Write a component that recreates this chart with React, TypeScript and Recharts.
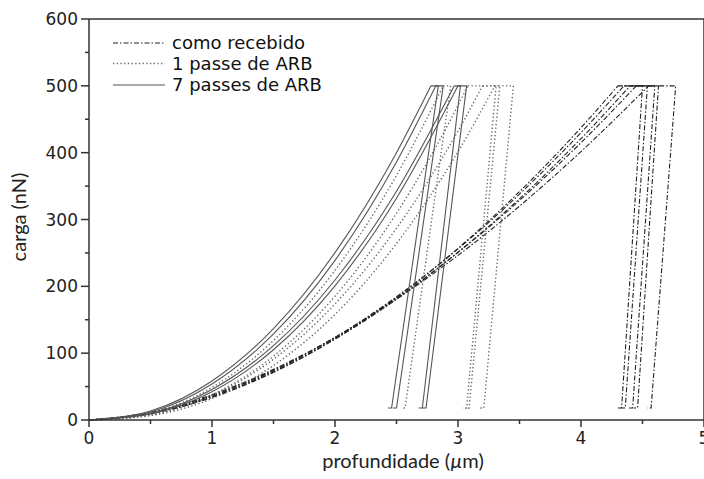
import { LineChart, Line, XAxis, YAxis, ReferenceLine } from "recharts";

type Pt = [number, number];

// [profundidade (µm), carga (nN)]
// como recebido
const cr1Load: Pt[] = [[0, 0], [0.5, 9.3], [1, 33.7], [1.5, 71.3], [2, 121.3], [2.5, 183.3], [3, 256.9], [3.5, 341.7], [4, 437.4], [4.3, 500]];
const cr1Unload: Pt[] = [[4.3, 500], [4.5, 500], [4.33, 18], [4.3, 18]];
const cr2Load: Pt[] = [[0, 0], [0.5, 10.2], [1, 35.4], [1.5, 73.6], [2, 123.4], [2.5, 184.5], [3, 256], [3.5, 338], [4, 430], [4.35, 500]];
const cr2Unload: Pt[] = [[4.35, 500], [4.54, 500], [4.36, 18], [4.33, 18]];
const cr3Load: Pt[] = [[0, 0], [0.5, 10], [1, 34.7], [1.5, 72], [2, 121], [2.5, 180.8], [3, 251], [3.5, 331], [4, 421], [4.4, 500]];
const cr3Unload: Pt[] = [[4.4, 500], [4.6, 500], [4.42, 18], [4.39, 18]];
const cr4Load: Pt[] = [[0, 0], [0.5, 10.9], [1, 36.7], [1.5, 74.6], [2, 123.3], [2.5, 182.3], [3, 250.8], [3.5, 328.5], [4, 414.9], [4.45, 500]];
const cr4Unload: Pt[] = [[4.45, 500], [4.63, 500], [4.46, 18], [4.43, 18]];
const cr5Load: Pt[] = [[0, 0], [0.5, 11.7], [1, 38], [1.5, 75.8], [2, 123.6], [2.5, 180.7], [3, 246.3], [3.5, 320], [4, 401.7], [4.55, 500]];
const cr5Unload: Pt[] = [[4.55, 500], [4.77, 500], [4.57, 18], [4.54, 18]];

// 1 passe de ARB
const p1aLoad: Pt[] = [[0, 0], [0.5, 10.6], [1, 48.8], [1.5, 119], [2, 224], [2.5, 366], [2.88, 500]];
const p1aUnload: Pt[] = [[2.88, 500], [2.94, 500], [2.57, 18], [2.54, 18]];
const p1bLoad: Pt[] = [[0, 0], [0.5, 7.6], [1, 37.6], [1.5, 95.6], [2, 185.2], [2.5, 309.4], [3, 470.7], [3.08, 500]];
const p1bUnload: Pt[] = [[3.08, 500], [3.31, 500], [3.07, 18], [3.04, 18]];
const p1cLoad: Pt[] = [[0, 0], [0.5, 7.7], [1, 36.5], [1.5, 90.9], [2, 173.6], [2.5, 286.9], [3, 432.4], [3.2, 500]];
const p1cUnload: Pt[] = [[3.2, 500], [3.34, 500], [3.09, 18], [3.06, 18]];
const p1dLoad: Pt[] = [[0, 0], [0.5, 6.5], [1, 32.1], [1.5, 81.6], [2, 158], [2.5, 264], [3, 401.6], [3.3, 500]];
const p1dUnload: Pt[] = [[3.3, 500], [3.45, 500], [3.21, 18], [3.18, 18]];

// 7 passes de ARB
const p7aLoad: Pt[] = [[0, 0], [0.5, 13.6], [1, 58.4], [1.5, 136.8], [2, 250.4], [2.5, 400], [2.78, 500]];
const p7aUnload: Pt[] = [[2.78, 500], [2.84, 500], [2.46, 18], [2.43, 18]];
const p7bLoad: Pt[] = [[0, 0], [0.5, 12.1], [1, 53.8], [1.5, 128.7], [2, 238.9], [2.5, 386], [2.82, 500]];
const p7bUnload: Pt[] = [[2.82, 500], [2.88, 500], [2.5, 18], [2.47, 18]];
const p7cLoad: Pt[] = [[0, 0], [0.5, 9.9], [1, 45.6], [1.5, 111.2], [2, 209.5], [2.5, 342.2], [2.97, 500]];
const p7cUnload: Pt[] = [[2.97, 500], [3.02, 500], [2.71, 18], [2.68, 18]];
const p7dLoad: Pt[] = [[0, 0], [0.5, 8.9], [1, 42.2], [1.5, 105.1], [2, 200.8], [2.5, 331.8], [3, 500]];
const p7dUnload: Pt[] = [[3, 500], [3.07, 500], [2.74, 18], [2.71, 18]];

const xTicks = [0, 0.5, 1, 1.5, 2, 2.5, 3, 3.5, 4, 4.5, 5];
const yTicks = [0, 50, 100, 150, 200, 250, 300, 350, 400, 450, 500, 550, 600];

const legendLabels = ["como recebido", "1 passe de ARB", "7 passes de ARB"];

const STYLES = {
  recebido: { stroke: "#222", strokeWidth: 1.1, strokeDasharray: "5 2 1.5 2" },
  passe1: { stroke: "#666", strokeWidth: 1.4, strokeDasharray: "1.3 2.4" },
  passe7: { stroke: "#555", strokeWidth: 1.1, strokeDasharray: undefined as string | undefined },
};

const curves = [
  { load: cr1Load, unload: cr1Unload, style: STYLES.recebido },
  { load: cr2Load, unload: cr2Unload, style: STYLES.recebido },
  { load: cr3Load, unload: cr3Unload, style: STYLES.recebido },
  { load: cr4Load, unload: cr4Unload, style: STYLES.recebido },
  { load: cr5Load, unload: cr5Unload, style: STYLES.recebido },
  { load: p1aLoad, unload: p1aUnload, style: STYLES.passe1 },
  { load: p1bLoad, unload: p1bUnload, style: STYLES.passe1 },
  { load: p1cLoad, unload: p1cUnload, style: STYLES.passe1 },
  { load: p1dLoad, unload: p1dUnload, style: STYLES.passe1 },
  { load: p7aLoad, unload: p7aUnload, style: STYLES.passe7 },
  { load: p7bLoad, unload: p7bUnload, style: STYLES.passe7 },
  { load: p7cLoad, unload: p7cUnload, style: STYLES.passe7 },
  { load: p7dLoad, unload: p7dUnload, style: STYLES.passe7 },
];

const toRows = (pts: Pt[]) => pts.map(([x, y]) => ({ x, y }));

const AXIS = "#333";
const TICK_FONT = "DejaVu Sans, sans-serif";
const TITLE_FONT = "Lato, sans-serif";

const XTick = (props: any) => {
  const { x, y, payload } = props;
  const major = Number.isInteger(payload.value);
  return (
    <g>
      <line x1={x} x2={x} y1={y} y2={y + (major ? 7 : 4)} stroke={AXIS} strokeWidth={1.5} />
      {major && (
        <text x={x} y={y + 24} textAnchor="middle" fontSize={17} fill="#222" fontFamily={TICK_FONT}>
          {payload.value}
        </text>
      )}
    </g>
  );
};

const YTick = (props: any) => {
  const { x, y, payload } = props;
  const major = payload.value % 100 === 0;
  return (
    <g>
      <line x1={x} x2={x - (major ? 8 : 4)} y1={y} y2={y} stroke={AXIS} strokeWidth={1.5} />
      {major && (
        <text x={x - 11} y={y + 6} textAnchor="end" fontSize={17} fill="#222" fontFamily={TICK_FONT}>
          {payload.value}
        </text>
      )}
    </g>
  );
};

const Legenda = () => {
  const rows = [STYLES.recebido, STYLES.passe1, STYLES.passe7];
  return (
    <svg
      width={400}
      height={110}
      style={{ position: "absolute", left: 0, top: 0, pointerEvents: "none" }}
    >
      {rows.map((s, i) => {
        const ly = [43, 63.5, 85][i];
        return (
          <g key={legendLabels[i]}>
            <line x1={113} x2={165} y1={ly} y2={ly} {...s} />
            <text x={172} y={ly + 6} fontSize={18} fill="#111" fontFamily={TICK_FONT}>
              {legendLabels[i]}
            </text>
          </g>
        );
      })}
    </svg>
  );
};

export default function App() {
  return (
    <div
      style={{
        position: "absolute",
        left: 0,
        top: 0,
        width: 704,
        height: 479,
        overflow: "hidden",
        background: "#fff",
      }}
    >
      <LineChart width={720} height={479} margin={{ top: 19, right: 16, bottom: 0, left: 0 }}>
        <XAxis
          type="number"
          dataKey="x"
          domain={[0, 5]}
          ticks={xTicks}
          interval={0}
          height={59}
          tickSize={0}
          tickMargin={0}
          tickLine={false}
          tick={<XTick />}
          axisLine={{ stroke: AXIS, strokeWidth: 1.5 }}
          allowDataOverflow
          label={() => (
            <text x={403} y={468} textAnchor="middle" fontSize={20} fill="#222" fontFamily={TITLE_FONT}>
              profundidade (<tspan fontStyle="italic">µ</tspan>m)
            </text>
          )}
        />
        <YAxis
          type="number"
          dataKey="y"
          domain={[0, 600]}
          ticks={yTicks}
          interval={0}
          width={89}
          tickSize={0}
          tickMargin={0}
          tickLine={false}
          tick={<YTick />}
          axisLine={{ stroke: AXIS, strokeWidth: 1.5 }}
          label={() => (
            <text
              transform="translate(26,217) rotate(-90)"
              textAnchor="middle"
              fontSize={20}
              fill="#222"
              fontFamily={TITLE_FONT}
            >
              carga (nN)
            </text>
          )}
        />
        <ReferenceLine y={600} stroke={AXIS} strokeWidth={1.5} ifOverflow="extendDomain" />
        <ReferenceLine x={5} stroke={AXIS} strokeWidth={1.5} />
        {curves.map((c, i) => (
          <Line
            key={`load-${i}`}
            data={toRows(c.load)}
            dataKey="y"
            type="monotone"
            dot={false}
            activeDot={false}
            isAnimationActive={false}
            {...c.style}
          />
        ))}
        {curves.map((c, i) => (
          <Line
            key={`unload-${i}`}
            data={toRows(c.unload)}
            dataKey="y"
            type="linear"
            dot={false}
            activeDot={false}
            isAnimationActive={false}
            {...c.style}
          />
        ))}
      </LineChart>
      <Legenda />
    </div>
  );
}
